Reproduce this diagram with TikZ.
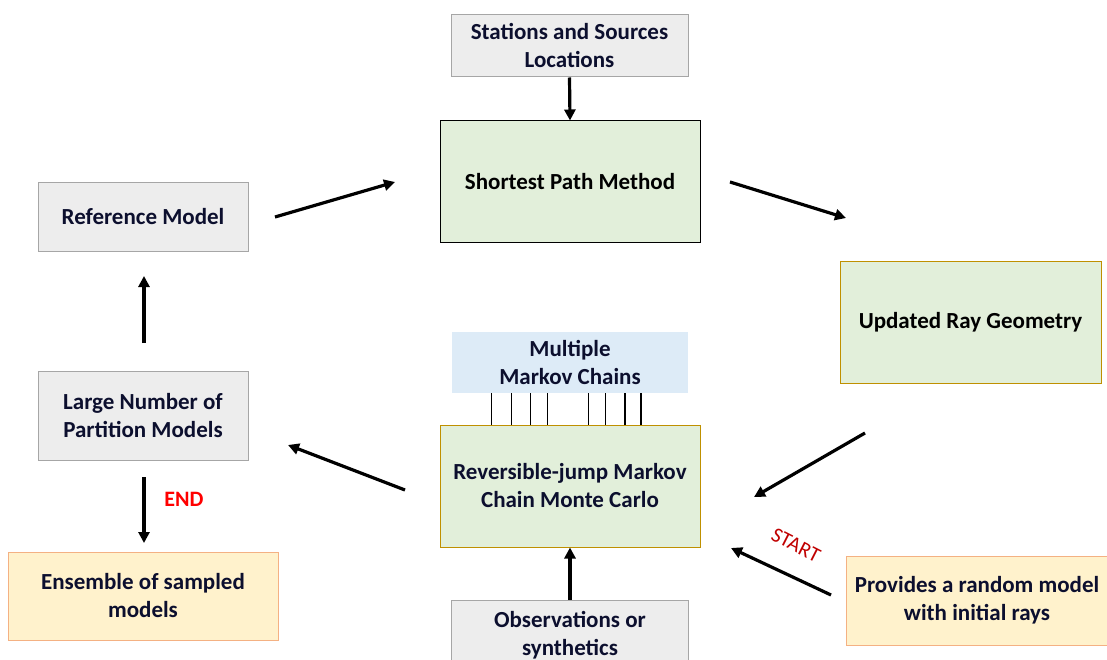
\documentclass[tikz,border=0pt]{standalone}
\usepackage{fontspec}
\setmainfont{Carlito}
\usetikzlibrary{arrows.meta}
\definecolor{grayfill}{HTML}{EDEDED}
\definecolor{grayline}{HTML}{A6A6A6}
\definecolor{greenfill}{HTML}{E2EFDA}
\definecolor{goldline}{HTML}{BF9000}
\definecolor{bluefill}{HTML}{DDEBF7}
\definecolor{creamfill}{HTML}{FFF2CC}
\definecolor{orangeline}{HTML}{F4B183}
\definecolor{navytext}{HTML}{0C0F2E}
\definecolor{startred}{HTML}{C00000}
\tikzset{
  x=1pt, y=-1pt,
  box/.style={draw, line width=1pt, font=\fontsize{23}{28}\selectfont\bfseries,
    align=center, inner sep=0pt, text=navytext},
  graybox/.style={box, fill=grayfill, draw=grayline},
  greenbox/.style={box, fill=greenfill},
  creambox/.style={box, fill=creamfill, draw=orangeline},
  flow/.style={line width=3.2pt, -{Triangle[length=11pt,width=11pt]}},
  chain/.style={line width=1.4pt}
}
\begin{document}
\begin{tikzpicture}
\useasboundingbox (0,0) rectangle (1107,660);
% boxes
\node[graybox, minimum width=237, minimum height=62] (stations) at (569.5,46) {Stations and Sources\\Locations};
\node[greenbox, draw=black, text=black, minimum width=260, minimum height=121] (spm) at (570,181.5) {Shortest Path Method};
\node[graybox, minimum width=210, minimum height=68] (ref) at (143,217) {Reference Model};
\node[greenbox, draw=goldline, text=black, minimum width=261, minimum height=122] (ray) at (970.5,322) {Updated Ray Geometry};
\node[box, draw=none, fill=bluefill, minimum width=236, minimum height=61] (chains) at (570,362.5) {Multiple\\Markov Chains};
\node[greenbox, draw=goldline, minimum width=260, minimum height=122] (rj) at (570,486) {Reversible-jump Markov\\Chain Monte Carlo};
\node[graybox, minimum width=210, minimum height=89] (large) at (143,415.5) {Large Number of\\Partition Models};
\node[creambox, minimum width=270, minimum height=88] (ens) at (143,596) {Ensemble of sampled\\models};
\node[creambox, minimum width=262, minimum height=89] (rand) at (977,600.5) {Provides a random model\\with initial rays};
\node[graybox, minimum width=237, minimum height=70] (obs) at (570,635) {Observations or\\synthetics};
% links between the chain box and the sampler
\foreach \cx in {491.7,511.7,530.7,547.7,588.3,605.7,625,641}
  \draw[chain] (\cx,393) -- (\cx,425);
% arrow end points in the gaps between boxes
\coordinate (refA) at (275,217);
\coordinate (spmA) at (395,182);
\coordinate (spmB) at (730,182);
\coordinate (rayA) at (846,218);
\coordinate (rayB) at (865,433);
\coordinate (rjA) at (754,497);
\coordinate (rjB) at (405,490);
\coordinate (largeA) at (288,445);
\coordinate (largeB) at (144,343);
\coordinate (refB) at (144,276);
\coordinate (largeC) at (144,477);
\coordinate (ensA) at (144,543);
\coordinate (randA) at (831,595);
\coordinate (rjC) at (731,548);
% flow arrows
\draw[flow] (stations.south) -- (spm.north);
\draw[flow] (refA) -- (spmA);
\draw[flow] (spmB) -- (rayA);
\draw[flow] (rayB) -- (rjA);
\draw[flow] (rjB) -- (largeA);
\draw[flow] (largeB) -- (refB);
\draw[flow] (largeC) -- (ensA);
\draw[flow] (randA) -- (rjC);
\draw[flow] (obs.north) -- (rj.south);
% start and end labels
\node[font=\fontsize{22}{24}\selectfont\bfseries, text=red] (endlbl) at (184,499) {END};
\node[font=\fontsize{21}{24}\selectfont, text=startred, rotate=-27] (startlbl) at (796,545) {START};
\end{tikzpicture}
\end{document}
